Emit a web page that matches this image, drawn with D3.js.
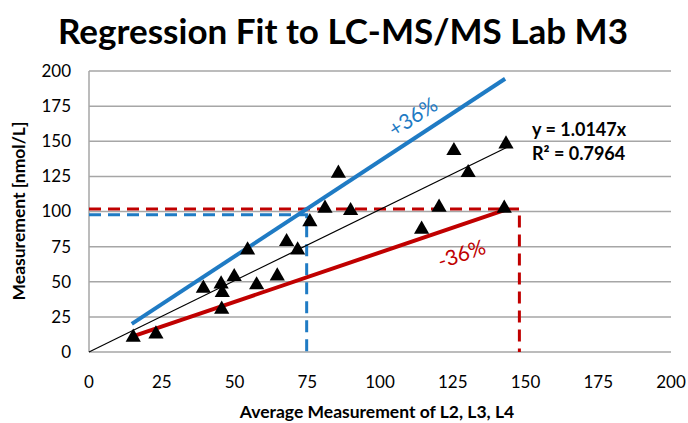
<!DOCTYPE html>
<html>
<head>
<meta charset="utf-8">
<script src="https://cdn.jsdelivr.net/npm/d3@7"></script>
<style>
  body { margin: 0; background: white; }
  text { font-family: Lato, "Open Sans", sans-serif; }
</style>
</head>
<body>
<div id="chart"></div>
<script>
// points
var xValues = [15.2, 23.0, 39.3, 45.4, 45.8, 45.6, 49.9, 54.5, 57.6, 64.7, 67.9, 71.7, 75.9, 81.1, 85.7, 89.9, 114.3, 120.3, 125.4, 130.3, 142.7, 143.3];
var yValues = [10.5, 12.8, 45.3, 48.4, 42.2, 30.4, 53.6, 72.6, 47.7, 54.1, 78.5, 72.6, 92.7, 102.3, 127.2, 100.6, 87.3, 103.0, 143.3, 127.6, 102.3, 148.0];

var ticks = [0, 25, 50, 75, 100, 125, 150, 175, 200];

var fitLine = [[0, 0], [143.5, 145.6]];
var upperLine = [[14.7, 20.0], [143.0, 194.5]];
var lowerLine = [[15.8, 11.6], [143.5, 101.5]];

var upperGuide = [[0, 97.6], [74.8, 97.6], [74.8, 0]];
var lowerGuide = [[0, 101.8], [147.9, 101.8], [147.9, 0]];

var equationText = ["y = 1.0147x", "R² = 0.7964"];

var dimensions = {
    width: 688,
    height: 423,
    margin: { top: 71, bottom: 71, right: 17, left: 89 }
};

var svg = d3.select("#chart")
    .append("svg")
    .attr("width", dimensions.width)
    .attr("height", dimensions.height);

var xScale = d3.scaleLinear().domain([0, 200])
    .range([dimensions.margin.left, dimensions.width - dimensions.margin.right]);
var yScale = d3.scaleLinear().domain([0, 200])
    .range([dimensions.height - dimensions.margin.bottom, dimensions.margin.top]);

// title
svg.append("text")
    .attr("x", 343)
    .attr("y", 44)
    .attr("text-anchor", "middle")
    .attr("font-size", 35)
    .attr("font-weight", "bold")
    .text("Regression Fit to LC-MS/MS Lab M3");

// horizontal gridlines
svg.append("g")
    .selectAll("line")
    .data(ticks)
    .enter().append("line")
    .attr("x1", xScale(0))
    .attr("x2", xScale(200))
    .attr("y1", d => yScale(d))
    .attr("y2", d => yScale(d))
    .attr("stroke", "#a6a6a6")
    .attr("stroke-width", 1.5);

// left axis line
svg.append("line")
    .attr("x1", xScale(0)).attr("x2", xScale(0))
    .attr("y1", yScale(0)).attr("y2", yScale(200))
    .attr("stroke", "#a6a6a6")
    .attr("stroke-width", 1.5);

// y tick labels
svg.append("g")
    .selectAll("text")
    .data(ticks)
    .enter().append("text")
    .attr("x", xScale(0) - 18)
    .attr("y", d => yScale(d))
    .attr("dy", "0.35em")
    .attr("text-anchor", "end")
    .attr("font-size", 17)
    .text(d => d);

// x tick labels
svg.append("g")
    .selectAll("text")
    .data(ticks)
    .enter().append("text")
    .attr("x", d => xScale(d))
    .attr("y", yScale(0) + 36)
    .attr("text-anchor", "middle")
    .attr("font-size", 17)
    .text(d => d);

// axis titles
svg.append("text")
    .attr("x", 377)
    .attr("y", 418)
    .attr("text-anchor", "middle")
    .attr("font-size", 17.5)
    .attr("font-weight", "bold")
    .text("Average Measurement  of L2, L3, L4");

svg.append("text")
    .attr("transform", "translate(25, 211) rotate(-90)")
    .attr("text-anchor", "middle")
    .attr("font-size", 17.5)
    .attr("font-weight", "bold")
    .text("Measurement [nmol/L]");

var line = d3.line()
    .x(d => xScale(d[0]))
    .y(d => yScale(d[1]));

// dashed guides
svg.append("path")
    .attr("d", line(lowerGuide))
    .attr("fill", "none")
    .attr("stroke", "#c00000")
    .attr("stroke-width", 3)
    .attr("stroke-dasharray", "12 7");

svg.append("path")
    .attr("d", line(upperGuide))
    .attr("fill", "none")
    .attr("stroke", "#1f7bc4")
    .attr("stroke-width", 3)
    .attr("stroke-dasharray", "12 7");

// fit and +/-36% lines
svg.append("path")
    .attr("d", line(fitLine))
    .attr("fill", "none")
    .attr("stroke", "black")
    .attr("stroke-width", 1.2);

svg.append("path")
    .attr("d", line(upperLine))
    .attr("fill", "none")
    .attr("stroke", "#1f7bc4")
    .attr("stroke-width", 4);

svg.append("path")
    .attr("d", line(lowerLine))
    .attr("fill", "none")
    .attr("stroke", "#c00000")
    .attr("stroke-width", 4);

// points
var points = xValues.map((x, i) => [x, yValues[i]]);
svg.append("g")
    .selectAll("path")
    .data(points)
    .enter().append("path")
    .attr("transform", d => `translate(${xScale(d[0])}, ${yScale(d[1])})`)
    .attr("d", d3.symbol().type(d3.symbolTriangle).size(100))
    .attr("fill", "black");

// line labels
svg.append("text")
    .attr("transform", "translate(417, 123) rotate(-33)")
    .attr("text-anchor", "middle")
    .attr("font-size", 21)
    .attr("fill", "#1f7bc4")
    .text("+36%");

svg.append("text")
    .attr("transform", "translate(464, 261) rotate(-19)")
    .attr("text-anchor", "middle")
    .attr("font-size", 21)
    .attr("fill", "#c00000")
    .text("-36%");

// regression equation
svg.append("g")
    .selectAll("text")
    .data(equationText)
    .enter().append("text")
    .attr("x", 532)
    .attr("y", (d, i) => 136 + i * 24)
    .attr("font-size", 18)
    .attr("font-weight", "bold")
    .text(d => d);
</script>
</body>
</html>
